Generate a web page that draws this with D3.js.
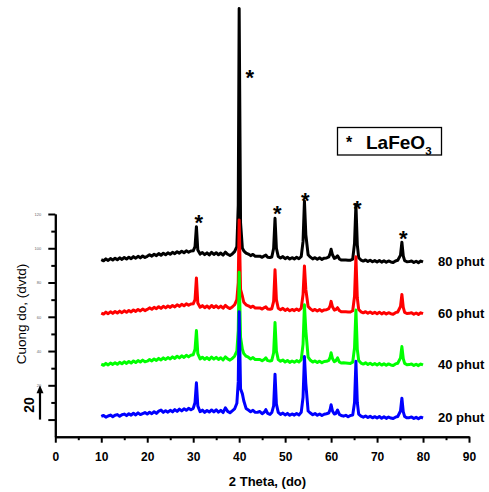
<!DOCTYPE html>
<html>
<head>
<meta charset="utf-8">
<script src="https://cdn.jsdelivr.net/npm/d3@7"></script>
<style>
body { margin: 0; background: #fff; }
text { font-family: "Liberation Sans", Arial, sans-serif; }
</style>
</head>
<body>
<script>
var w = 489;
var h = 492;

// 2 theta positions shared by every pattern
var twoTheta = [
    10, 10.5, 11, 11.5, 12, 12.5, 13, 13.5, 14, 14.5,
    15, 15.5, 16, 16.5, 17, 17.5, 18, 18.5, 19, 19.5,
    20, 20.5, 21, 21.5, 22, 22.5, 23, 23.5, 24, 24.5,
    25, 25.5, 26, 26.5, 27, 27.5, 28, 28.5, 29, 29.5,
    30, 30.4, 30.7, 31, 31.5, 32, 32.5, 33, 33.5, 34,
    34.5, 35, 35.5, 36, 36.5, 37, 37.5, 38, 38.5, 39,
    39.5, 39.8, 40, 40.3, 40.7, 41, 41.5, 42, 42.5, 43,
    43.5, 44, 44.5, 45, 45.5, 45.8, 46.2, 46.7, 47.1, 47.5,
    47.8, 48.1, 48.5, 49, 49.5, 50, 50.5, 51, 51.5, 52,
    52.5, 53, 53.5, 53.9, 54.2, 54.5, 55, 55.5, 56, 56.5,
    57, 57.5, 58, 58.5, 59, 59.5, 59.8, 60, 60.3, 60.7,
    61, 61.4, 61.8, 62.2, 62.7, 63.2, 63.7, 64.2, 64.7, 65.1,
    65.4, 65.7, 66, 66.5, 67, 67.5, 68, 68.5, 69, 69.5,
    70, 70.5, 71, 71.5, 72, 72.5, 73, 73.5, 74, 74.5,
    75.1, 75.4, 75.7, 76, 76.5, 77, 77.5, 78, 78.5, 79,
    79.5, 80
];

var phut20 = [
    1.8, 2.4, 1.4, 2.1, 2.6, 1.7, 2.5, 2.9, 1.9, 2.8,
    3.2, 2.3, 3.4, 2.6, 3.7, 2.7, 3.9, 2.9, 3.5, 4.1,
    3.2, 4.3, 3.4, 4.6, 3.6, 4.9, 5.5, 4.2, 5.2, 4.3,
    5.4, 4.5, 5.8, 4.8, 6.1, 5.1, 6.3, 5.4, 6.6, 5.7,
    6.5, 10, 21.5, 8, 4.6, 5.5, 4.2, 5.3, 4.4, 5.6,
    4.5, 5.7, 4.3, 5.4, 4.1, 6.8, 4.8, 4.0, 5.1, 6.2,
    9.5, 22, 63, 18, 15, 11, 6.5, 5.6, 4.6, 5.4,
    4.2, 4.3, 4.7, 3.4, 4.4, 5.8, 3.6, 3.0, 4.1, 8,
    26.5, 9, 4.2, 3.0, 3.8, 2.7, 3.6, 2.5, 3.3, 2.6,
    3.5, 2.7, 4.2, 13, 36.8, 21, 5.0, 3.8, 2.8, 3.5,
    2.5, 3.3, 2.4, 3.1, 3.4, 3.8, 6.0, 8.6, 5.0, 3.2,
    3.5, 5.6, 3.0, 2.4, 2.0, 2.5, 1.6, 2.4, 2.6, 10,
    34, 10, 3.2, 2.0, 1.4, 2.1, 1.2, 1.9, 1.0, 1.7,
    0.9, 1.8, 0.8, 1.6, 0.7, 1.5, 0.9, 0.6, 1.4, 1.8,
    5, 12.5, 4.5, 1.8, 1.0, 1.1, 1.5, 0.6, 1.3, 0.5,
    1.4, 0.9
];

var phut40 = [
    32.3, 31.7, 32.8, 31.9, 33.0, 32.2, 33.2, 32.3, 33.4, 32.6,
    33.7, 32.8, 33.9, 33.0, 34.2, 33.3, 34.4, 33.6, 34.7, 33.8,
    34.1, 35.0, 34.2, 35.4, 34.5, 35.7, 34.8, 36.0, 35.1, 36.2,
    35.4, 36.6, 35.7, 37.0, 36.0, 37.2, 36.3, 37.5, 36.6, 37.6,
    37.8, 41, 52, 38.5, 35.4, 36.4, 35.2, 36.2, 35.0, 36.5,
    35.3, 36.3, 35.1, 36.1, 34.8, 36.6, 35.4, 34.7, 35.6, 37.0,
    40, 52, 86, 48, 41, 38.5, 37.0, 36.4, 35.4, 36.2,
    35.0, 35.0, 35.1, 34.3, 35.2, 36.0, 34.4, 34.2, 34.5, 39,
    56.6, 40, 35.0, 34.0, 34.8, 33.6, 34.5, 33.4, 34.2, 33.5,
    34.4, 33.6, 35.0, 44, 67, 52, 36.5, 34.6, 33.6, 34.2,
    33.3, 34.1, 33.2, 33.9, 34.0, 34.6, 36.5, 39, 35.6, 33.8,
    34.2, 36.0, 33.6, 33.0, 33.1, 33.0, 32.9, 32.8, 33.5, 42,
    64, 41, 34.5, 33.0, 32.4, 33.1, 32.2, 32.9, 32.0, 32.7,
    31.9, 32.8, 31.8, 32.6, 31.7, 32.5, 31.9, 31.6, 32.5, 32.9,
    36, 42.6, 35.5, 32.8, 32.0, 32.1, 32.5, 31.6, 32.3, 31.5,
    32.4, 31.9
];

var phut60 = [
    62.2, 61.6, 62.7, 61.8, 62.9, 62.0, 63.1, 62.2, 63.3, 62.4,
    63.5, 62.6, 63.7, 62.8, 64.0, 63.1, 64.3, 63.4, 64.5, 63.6,
    64.3, 65.2, 64.4, 65.5, 64.7, 65.9, 64.9, 66.1, 65.2, 66.3,
    65.5, 66.6, 65.8, 67.0, 66.1, 67.3, 66.4, 67.6, 66.7, 67.5,
    67.6, 70, 82.7, 68, 65.6, 66.5, 65.3, 66.3, 65.1, 66.6,
    65.4, 66.4, 65.2, 66.2, 65.0, 66.7, 65.5, 64.8, 65.7, 67.0,
    70, 80, 116.5, 76, 72, 68.5, 67.0, 66.4, 65.5, 66.2,
    65.1, 65.1, 65.2, 64.5, 65.4, 65.8, 64.6, 64.4, 64.7, 69,
    87.4, 70, 65.0, 64.1, 64.9, 63.7, 64.6, 63.5, 64.3, 63.6,
    64.5, 63.7, 65.0, 73, 89.7, 76, 66.0, 64.6, 63.6, 64.3,
    63.4, 64.2, 63.3, 64.0, 64.1, 64.8, 66.5, 69, 65.8, 63.9,
    64.2, 65.3, 63.6, 62.9, 63.0, 62.9, 62.8, 62.8, 63.5, 72,
    95, 71, 64.3, 62.9, 62.3, 63.0, 62.1, 62.8, 61.9, 62.6,
    61.8, 62.7, 61.7, 62.5, 61.6, 62.4, 61.8, 61.5, 62.4, 62.8,
    66, 73, 65.5, 62.6, 61.9, 62.0, 62.4, 61.5, 62.2, 61.4,
    62.3, 61.8
];

var phut80 = [
    93.3, 92.7, 93.8, 92.9, 94.0, 93.1, 94.2, 93.3, 94.4, 93.5,
    94.6, 93.7, 94.8, 93.9, 95.1, 94.2, 95.3, 94.4, 95.5, 94.6,
    95.3, 96.2, 95.4, 96.5, 95.7, 96.9, 95.9, 97.1, 96.2, 97.3,
    96.5, 97.6, 96.8, 98.0, 97.1, 98.3, 97.4, 98.5, 97.7, 98.4,
    98.5, 101, 112.6, 99, 96.6, 97.5, 96.3, 97.3, 96.1, 97.6,
    96.4, 97.4, 96.2, 97.2, 96.0, 97.7, 96.5, 95.8, 96.7, 98.0,
    101, 125, 240, 115, 100, 98.5, 97.2, 96.6, 95.7, 96.4,
    95.3, 95.3, 95.4, 94.7, 95.6, 96.0, 94.8, 94.6, 94.9, 100,
    117.5, 100, 95.2, 94.3, 95.1, 93.9, 94.8, 93.7, 94.5, 93.8,
    94.7, 93.9, 95.2, 104, 127.6, 108, 96.2, 94.8, 93.8, 94.5,
    93.6, 94.4, 93.5, 94.2, 94.3, 95.0, 97.0, 99.4, 96.2, 94.1,
    94.4, 95.6, 93.8, 93.1, 93.2, 93.1, 93.0, 93.0, 93.7, 103,
    125.5, 102, 94.5, 93.1, 92.5, 93.2, 92.3, 93.0, 92.1, 92.8,
    92.0, 92.9, 91.9, 92.7, 91.8, 92.6, 92.0, 91.7, 92.6, 93.0,
    96, 103.5, 95.5, 92.8, 92.1, 92.2, 92.6, 91.7, 92.4, 91.6,
    92.5, 92.0
];

var seriesNames = ["80 phut", "60 phut", "40 phut", "20 phut"];
var seriesColors = ["#000000", "#ff0000", "#00ff00", "#0000ff"];
var seriesValues = [phut80, phut60, phut40, phut20];

// LaFeO3 marks (2 theta, intensity of the star centre)
var starTheta = [31.2, 42.3, 48.3, 54.4, 65.7, 75.7];
var starInt = [118, 202.4, 123.4, 131, 126, 108.5];

var xTicks = [0, 10, 20, 30, 40, 50, 60, 70, 80, 90];
var xMinor = [5, 15, 25, 35, 45, 55, 65, 75, 85];
var yTicks = [0, 20, 40, 60, 80, 100, 120];
var yMinor = [10, 30, 50, 70, 90, 110];

var x = d3.scaleLinear().domain([0, 90]).range([55.3, 469]);
var y = d3.scaleLinear().domain([-10, 120]).range([436.7, 214]);

var svg = d3.select("body")
    .append("svg")
    .attr("width", w)
    .attr("height", h);

// patterns
var line = d3.line()
    .x(function (d) { return x(d[0]); })
    .y(function (d) { return y(d[1]); });

seriesValues.forEach(function (vals, i) {
    var pts = twoTheta.map(function (t, j) { return [t, vals[j]]; })
        .filter(function (d) { return d[1] != null; });
    svg.append("path")
        .datum(pts)
        .attr("d", line)
        .attr("fill", "none")
        .attr("stroke", seriesColors[i])
        .attr("stroke-width", 3)
        .attr("stroke-linejoin", "round");
    svg.append("text")
        .text(seriesNames[i])
        .attr("x", 438)
        .attr("y", y(vals[vals.length - 1]) + 4.3)
        .attr("font-size", "13px")
        .attr("font-weight", "bold");
});

// stars
svg.selectAll("text.star")
    .data(d3.zip(starTheta, starInt))
    .enter()
    .append("text")
    .attr("class", "star")
    .text("*")
    .attr("x", function (d) { return x(d[0]); })
    .attr("y", function (d) { return y(d[1]) + 12.5; })
    .attr("text-anchor", "middle")
    .attr("font-size", "22px")
    .attr("font-weight", "bold");

// x axis
var xAxis = svg.append("g")
    .attr("transform", "translate(0," + y(-10) + ")")
    .call(d3.axisBottom(x).tickValues(xTicks).tickSize(6).tickSizeOuter(0).tickPadding(10));
xAxis.append("g")
    .call(d3.axisBottom(x).tickValues(xMinor).tickSize(3.5).tickSizeOuter(0).tickFormat(""));
xAxis.selectAll("path, line")
    .attr("stroke", "#000")
    .attr("stroke-width", 2);
xAxis.selectAll("text")
    .attr("font-family", "Liberation Sans, Arial, sans-serif")
    .attr("font-size", "12px")
    .attr("font-weight", "bold")
    .attr("fill", "#000");

// y axis
var yAxis = svg.append("g")
    .attr("transform", "translate(" + x(0) + ",0)")
    .call(d3.axisLeft(y).tickValues(yTicks).tickSize(7).tickSizeOuter(0).tickPadding(7)
        .tickFormat(function (d) { return d === 0 ? "" : d; }));
yAxis.append("g")
    .call(d3.axisLeft(y).tickValues(yMinor).tickSize(4).tickSizeOuter(0).tickFormat(""));
yAxis.selectAll("path, line")
    .attr("stroke", "#000")
    .attr("stroke-width", 2);
yAxis.selectAll("text")
    .attr("font-family", "Liberation Sans, Arial, sans-serif")
    .attr("font-size", "4px")
    .attr("fill", "#666");

// titles
svg.append("text")
    .text("2 Theta, (do)")
    .attr("x", 267.5)
    .attr("y", 485.7)
    .attr("text-anchor", "middle")
    .attr("font-size", "13px")
    .attr("font-weight", "bold");

svg.append("text")
    .text("Cuong do, (dvtd)")
    .attr("transform", "translate(25.5,314) rotate(-90)")
    .attr("text-anchor", "middle")
    .attr("font-size", "13.5px");

// 20 unit scale arrow
svg.append("line")
    .attr("x1", 40).attr("x2", 40)
    .attr("y1", y(0)).attr("y2", y(20) + 6)
    .attr("stroke", "#000")
    .attr("stroke-width", 2.2);
svg.append("path")
    .attr("d", "M40," + y(20) + "L36.5," + (y(20) + 8) + "L43.5," + (y(20) + 8) + "Z")
    .attr("fill", "#000");
svg.append("text")
    .text("20")
    .attr("transform", "translate(33.5,405) rotate(-90)")
    .attr("text-anchor", "middle")
    .attr("font-size", "14px")
    .attr("font-weight", "bold");

// legend
svg.append("rect")
    .attr("x", 337.5)
    .attr("y", 127.5)
    .attr("width", 104)
    .attr("height", 27.5)
    .attr("fill", "none")
    .attr("stroke", "#000")
    .attr("stroke-width", 1.3);
svg.append("text")
    .text("*")
    .attr("x", 349)
    .attr("y", 148)
    .attr("text-anchor", "middle")
    .attr("font-size", "16px")
    .attr("font-weight", "bold");
var leg = svg.append("text")
    .attr("x", 366)
    .attr("y", 149.3)
    .attr("font-size", "19px")
    .attr("font-weight", "bold");
leg.append("tspan").text("LaFeO");
leg.append("tspan").text("3")
    .attr("font-size", "11.5px")
    .attr("dy", 5.5);
</script>
</body>
</html>
